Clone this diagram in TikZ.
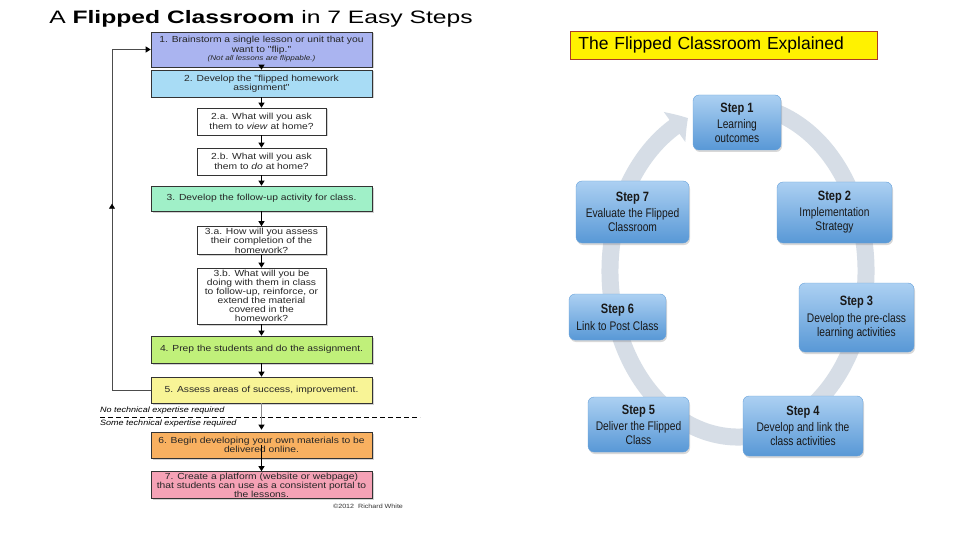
\documentclass[tikz,border=0pt]{standalone}
\usepackage{fontspec}
\setmainfont{Liberation Sans}
\newfontfamily\flowfont[FakeStretch=1.17]{Liberation Sans}
\newfontfamily\titlefont[FakeStretch=1.37]{Liberation Sans}
\newfontfamily\stepfont[FakeStretch=0.82]{Liberation Sans}
\usetikzlibrary{arrows.meta,shadows,decorations.markings,bending}
\definecolor{cOne}{RGB}{170,180,240}
\definecolor{cTwo}{RGB}{168,220,245}
\definecolor{cThree}{RGB}{160,240,200}
\definecolor{cFour}{RGB}{192,240,122}
\definecolor{cFive}{RGB}{248,244,150}
\definecolor{cSix}{RGB}{248,176,96}
\definecolor{cSeven}{RGB}{245,162,182}
\definecolor{stepTop}{RGB}{172,208,242}
\definecolor{stepBot}{RGB}{88,152,214}
\definecolor{ringcol}{RGB}{214,221,230}
\definecolor{hdrborder}{RGB}{170,60,40}
\newcommand\stepttl[1]{{\fontsize{13.5}{15}\selectfont\bfseries #1}}
\begin{document}
\begin{tikzpicture}[x=1pt,y=-1pt,
  fbox/.style={draw=black!80, line width=0.6pt, inner sep=0pt, align=center,
    font={\flowfont\fontsize{8.8}{9.5}\selectfont}, text=black!85,
    drop shadow={shadow xshift=1.5pt,shadow yshift=-1.5pt,opacity=0.35},
    minimum width=221pt},
  wbox/.style={fbox, fill=white, minimum width=129pt},
  farr/.style={line width=0.8pt, -{Triangle[width=6pt,length=5pt]}},
  stepbox/.style={rounded corners=6pt, top color=stepTop, bottom color=stepBot,
    draw=stepBot!90!white, line width=0.4pt, inner sep=0pt, align=center,
    font={\stepfont\fontsize{12.5}{14}\selectfont}, text=black!90,
    drop shadow={shadow xshift=1pt,shadow yshift=-2pt,opacity=0.3}},
  ring/.style={draw=ringcol, line width=17pt, -{Triangle[width=36pt,length=16pt,bend]}}
]
\useasboundingbox[fill=white] (0,0) rectangle (960,540);

% ---------------- left flowchart ----------------
\node[anchor=base, font={\titlefont\fontsize{18}{20}\selectfont}] (ttl) at (261,24)
  {A \textbf{Flipped Classroom} in 7 Easy Steps};

\node[fbox, fill=cOne, minimum height=35pt] (b1) at (261.5,49.5)
  {1. Brainstorm a single lesson or unit that you\\want to "flip."\\[-1pt]{\fontsize{7}{8}\selectfont\itshape (Not all lessons are flippable.)}};
\node[fbox, fill=cTwo, minimum height=27pt] (b2) at (261.5,83.5)
  {2. Develop the "flipped homework\\assignment"};
\node[wbox, minimum height=27pt] (b2a) at (261.5,121.5)
  {2.a. What will you ask\\them to \textit{view} at home?};
\node[wbox, minimum height=27pt] (b2b) at (261.5,161.5)
  {2.b. What will you ask\\them to \textit{do} at home?};
\node[fbox, fill=cThree, minimum height=25pt] (b3) at (261.5,198.5)
  {3. Develop the follow-up activity for class.};
\node[wbox, minimum height=28pt] (b3a) at (261.5,240.5)
  {3.a. How will you assess\\their completion of the\\homework?};
\node[wbox, minimum height=56pt, font={\flowfont\fontsize{8.8}{9}\selectfont}] (b3b) at (261.5,296)
  {3.b. What will you be\\doing with them in class\\to follow-up, reinforce, or\\extend the material\\covered in the\\homework?};
\node[fbox, fill=cFour, minimum height=27pt] (b4) at (261.5,349.5)
  {4. Prep the students and do the assignment.};
\node[fbox, fill=cFive, minimum height=26pt] (b5) at (261.5,390)
  {5. Assess areas of success, improvement.};
\node[fbox, fill=cSix, minimum height=26pt] (b6) at (261.5,445)
  {6. Begin developing your own materials to be\\delivered online.};
\node[fbox, fill=cSeven, minimum height=27pt, font={\flowfont\fontsize{8.8}{9}\selectfont}] (b7) at (261.5,485)
  {7. Create a platform (website or webpage)\\that students can use as a consistent portal to\\the lessons.};

\node[font={\flowfont\fontsize{6.1}{7}\selectfont}, text=black!80, inner sep=0pt] (copy) at (368,506)
  {\textcopyright2012 \ Richard White};

\node[anchor=west, inner sep=0pt, font={\flowfont\fontsize{7.7}{9}\selectfont\itshape}] (notech) at (100,410.5)
  {No technical expertise required};
\node[anchor=west, inner sep=0pt, font={\flowfont\fontsize{7.7}{9}\selectfont\itshape}] (sometech) at (100,423.5)
  {Some technical expertise required};
\coordinate (dl) at (100,417);
\coordinate (dr) at (420,417);
\draw[line width=0.7pt, dash pattern=on 5pt off 3pt] (dl) -- (dr);

\draw[farr] (b1) -- (b2);
\draw[farr] (b2) -- (b2a);
\draw[farr] (b2a) -- (b2b);
\draw[farr] (b2b) -- (b3);
\draw[farr] (b3) -- (b3a);
\draw[farr] (b3a) -- (b3b);
\draw[farr] (b3b) -- (b4);
\draw[farr] (b4) -- (b5);
\draw[line width=0.8pt, draw=black!45, -{Triangle[width=6pt,length=5pt,color=black]}, shorten >=2pt] (b5) -- (b6);
\draw[farr] (b6.center) -- (b7);

\coordinate (lb) at (112,390);
\coordinate (lt) at (112,49.5);
\draw[line width=0.8pt, draw=black!70, -{Triangle[width=6pt,length=5pt,color=black]},
  postaction={decorate},
  decoration={markings, mark=at position 225pt with {\arrow{Triangle[width=6pt,length=5pt,color=black]}}}]
  (b5.west) -- (lb) -- (lt) -- (b1.west);

% ---------------- right cycle ----------------
\node[anchor=west, draw=hdrborder, line width=0.8pt, fill=yellow, minimum height=28pt,
  inner xsep=8pt, text width=291pt, align=left, font={\fontsize{17.5}{20}\selectfont}] (hdr) at (570,45)
  {The Flipped Classroom Explained};

\coordinate (rc) at (738,271);
\draw[ring] ([shift={(-75:128 and 166)}]rc) arc[start angle=-75, end angle=247, x radius=128, y radius=166];

\node[stepbox, minimum width=88pt, minimum height=55pt] (s1) at (737,122.5)
  {\stepttl{Step 1}\\[2pt]Learning\\outcomes};
\node[stepbox, minimum width=115pt, minimum height=61pt] (s2) at (834.5,212.5)
  {\stepttl{Step 2}\\[2pt]Implementation\\Strategy};
\node[stepbox, minimum width=115pt, minimum height=69pt] (s3) at (856.5,317.5)
  {\stepttl{Step 3}\\[3pt]Develop the pre-class\\learning activities};
\node[stepbox, minimum width=120pt, minimum height=60pt] (s4) at (803,426)
  {\stepttl{Step 4}\\[2pt]Develop and link the\\class activities};
\node[stepbox, minimum width=101pt, minimum height=55pt] (s5) at (638.5,424.5)
  {\stepttl{Step 5}\\[2pt]Deliver the Flipped\\Class};
\node[stepbox, minimum width=97pt, minimum height=46pt] (s6) at (617.5,317)
  {\stepttl{Step 6}\\[3pt]Link to Post Class};
\node[stepbox, minimum width=113pt, minimum height=62pt] (s7) at (632.5,212)
  {\stepttl{Step 7}\\[2pt]Evaluate the Flipped\\Classroom};
\end{tikzpicture}
\end{document}
